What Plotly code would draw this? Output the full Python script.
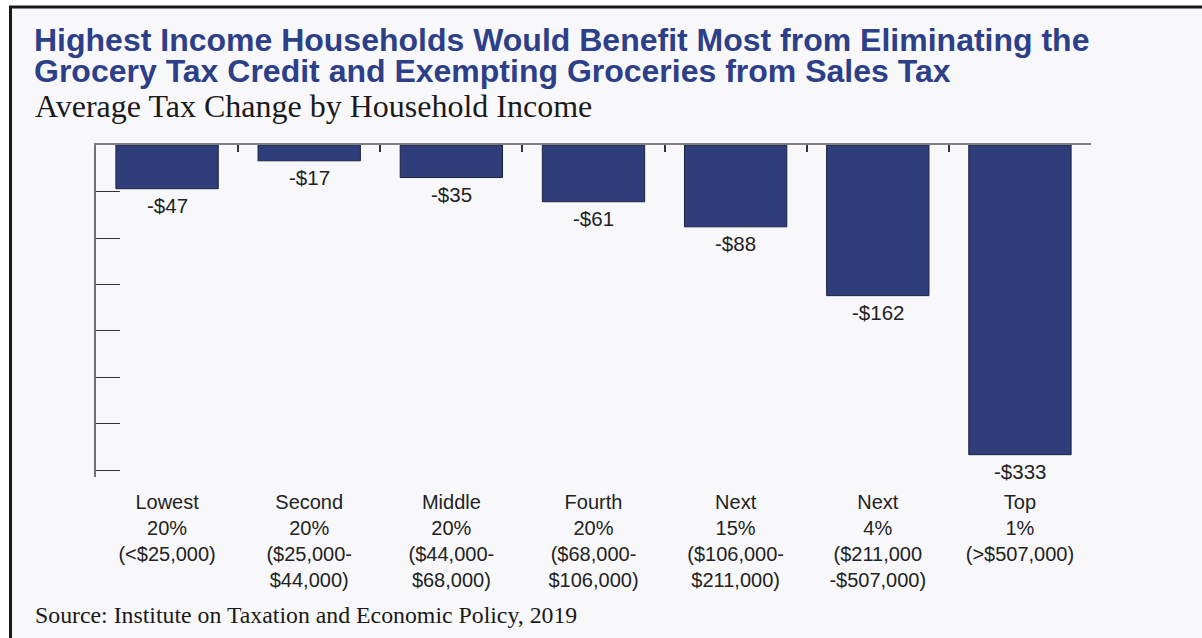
import numpy as np
import plotly.graph_objects as go

# ---- data ----
categories = [
    "Lowest<br>20%<br>(&lt;$25,000)",
    "Second<br>20%<br>($25,000-<br>$44,000)",
    "Middle<br>20%<br>($44,000-<br>$68,000)",
    "Fourth<br>20%<br>($68,000-<br>$106,000)",
    "Next<br>15%<br>($106,000-<br>$211,000)",
    "Next<br>4%<br>($211,000<br>-$507,000)",
    "Top<br>1%<br>(&gt;$507,000)",
]
values = [-47, -17, -35, -61, -88, -162, -333]
value_labels = ["-$47", "-$17", "-$35", "-$61", "-$88", "-$162", "-$333"]

title_line1 = "Highest Income Households Would Benefit Most from Eliminating the"
title_line2 = "Grocery Tax Credit and Exempting Groceries from Sales Tax"
subtitle = "Average Tax Change by Household Income"
source = "Source: Institute on Taxation and Economic Policy, 2019"

# ---- layout geometry (pixels) ----
W, H = 1202, 638
L, R, T, B = 96, 111, 145, 161
PW, PH = W - L - R, H - T - B

def px_x(p):
    return (p - L) / PW

def px_y(p):
    return 1 - (p - T) / PH

BAR_COLOR = "#2f3e7b"
TITLE_COLOR = "#2d3f88"
TEXT_COLOR = "#222222"
SANS = "Liberation Sans, Arial, sans-serif"
SERIF = "Liberation Serif, Times New Roman, serif"

fig = go.Figure()
fig.add_trace(go.Bar(
    x=categories, y=values, width=0.72,
    marker=dict(color=BAR_COLOR, line=dict(color="#1c2340", width=1)),
    hoverinfo="skip", showlegend=False,
))
# invisible companion trace so the top (boundary-tick) axis is drawn
fig.add_trace(go.Scatter(
    x=list(range(len(categories))), y=values, xaxis="x2", mode="none",
    hoverinfo="skip", showlegend=False,
))

annotations = []
for c, v, t in zip(categories, values, value_labels):
    annotations.append(dict(
        x=c, y=v, xref="x", yref="y", text=t, showarrow=False,
        yanchor="top", xanchor="center", yshift=-3,
        font=dict(family=SANS, size=20.5, color=TEXT_COLOR),
    ))

def txt(text, px, py, size, family, color):
    return dict(x=px_x(px), y=px_y(py), xref="paper", yref="paper", text=text,
                showarrow=False, xanchor="left", yanchor="middle",
                font=dict(family=family, size=size, color=color))

annotations += [
    txt("<b>%s</b>" % title_line1, 32, 40, 32, SANS, TITLE_COLOR),
    txt("<b>%s</b>" % title_line2, 32, 71, 32, SANS, TITLE_COLOR),
    txt(subtitle, 33, 106, 32, SERIF, "#1a1a1a"),
    txt(source, 33, 615, 23.8, SERIF, "#1a1a1a"),
]

n = len(categories)
boundaries = list(np.arange(n + 1) - 0.5)

fig.update_layout(
    width=W, height=H, autosize=False,
    margin=dict(l=L, r=R, t=T, b=B, pad=0),
    paper_bgcolor="white", plot_bgcolor="rgba(0,0,0,0)",
    xaxis=dict(
        type="category", range=[-0.5, n - 0.5], showline=False, ticks="",
        showgrid=False, zeroline=False, ticklabelstandoff=11,
        tickfont=dict(family=SANS, size=20, color=TEXT_COLOR),
    ),
    xaxis2=dict(
        overlaying="x", side="top", anchor="y", range=[-0.5, n - 0.5],
        tickmode="array", tickvals=boundaries, ticks="inside", ticklen=7,
        tickcolor="#333333", tickwidth=1.5, showline=True, linecolor="#7f7f7f",
        linewidth=2, showticklabels=False, showgrid=False, zeroline=False,
    ),
    yaxis=dict(
        range=[-357, 0], showline=True, linecolor="#707070", linewidth=1.5,
        ticks="inside", ticklen=24, tickcolor="#333333", tickwidth=1.2,
        tick0=0, dtick=50, showticklabels=False, showgrid=False, zeroline=False,
    ),
    annotations=annotations,
    shapes=[dict(
        type="rect", xref="paper", yref="paper", layer="below",
        x0=px_x(10.5), x1=px_x(1300), y0=px_y(800), y1=px_y(7),
        line=dict(color="#1a1a1a", width=3), fillcolor="#f8f8fa",
    )],
)

fig.write_html("out.html")
